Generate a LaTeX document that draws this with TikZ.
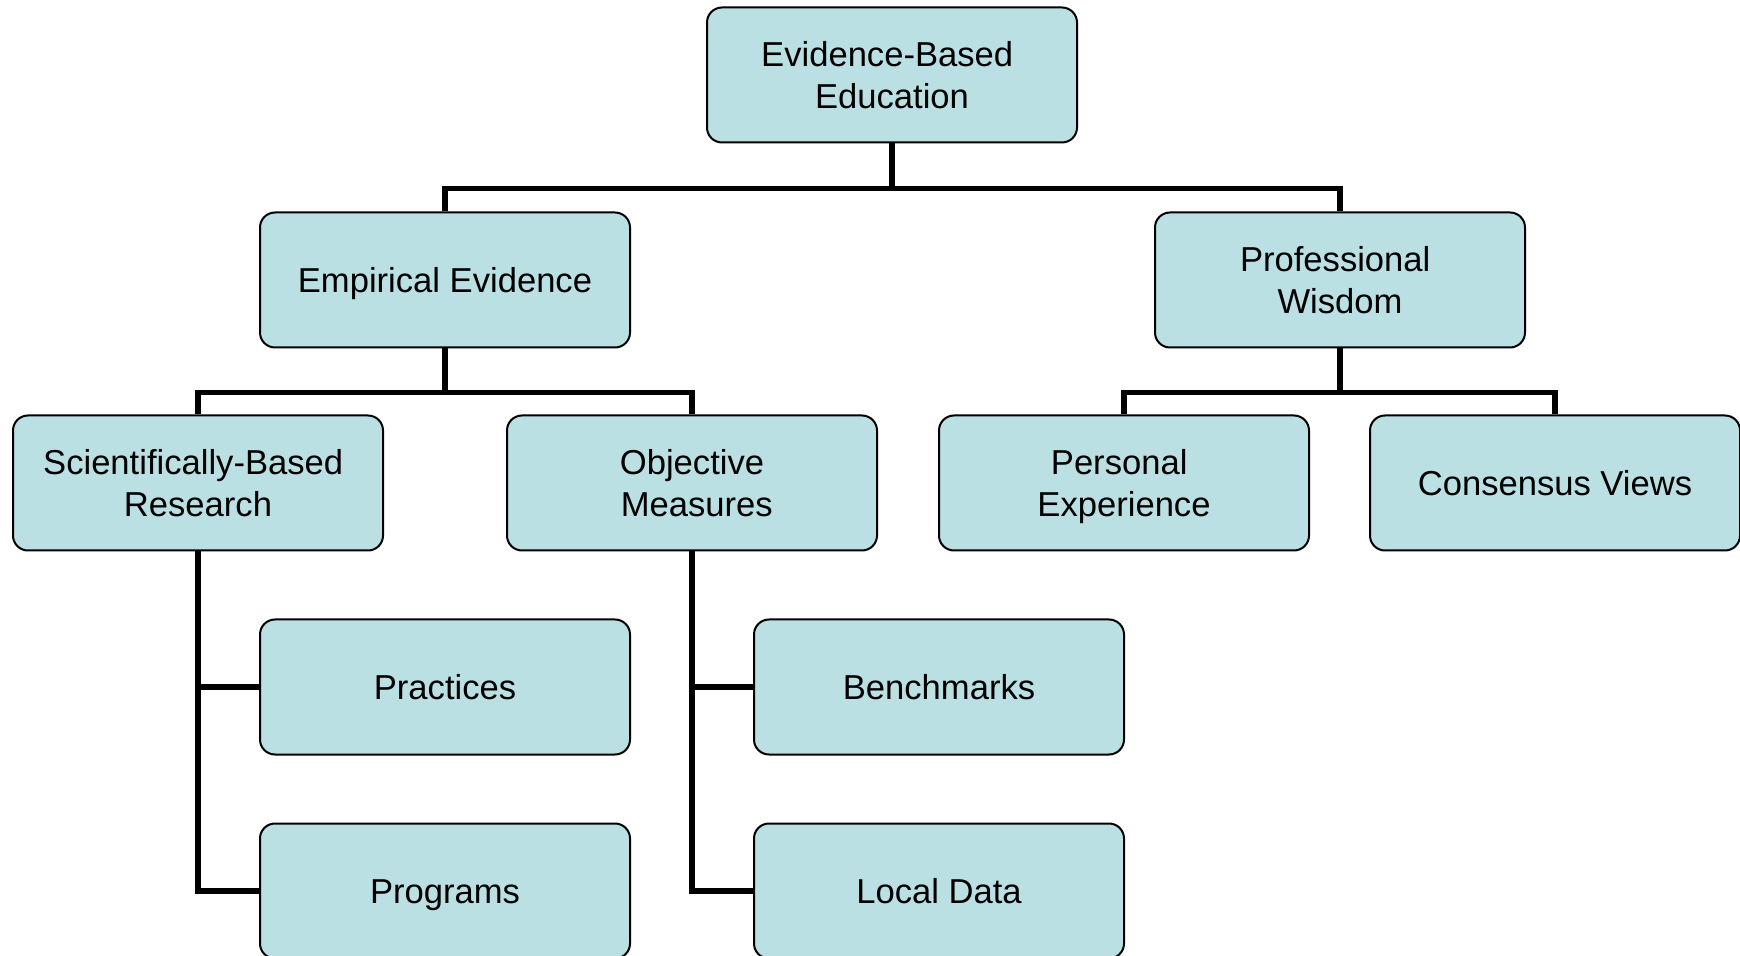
\documentclass[tikz,border=0pt]{standalone}
\usepackage{fontspec}
\setmainfont{Liberation Sans}
\definecolor{boxfill}{HTML}{BBE0E3}
\newcommand{\gap}{\kern.278em}

\begin{document}
\begin{tikzpicture}[x=0.5pt, y=-0.5pt,
    box/.style={draw, rounded corners=7.5pt, line width=1pt, fill=boxfill,
        minimum width=185pt, minimum height=67.5pt, align=center,
        font=\fontsize{17.3}{20.8}\selectfont, text depth=4pt,
        execute at begin node={\rule{0pt}{16.8pt}}},
    twoline/.style={box, execute at begin node={\rule{0pt}{37.6pt}}},
    link/.style={draw, line width=2.6pt}]
                    \useasboundingbox (0,0) rectangle (1740,956);
                    \clip (0,0) rectangle (1740,956);
                    \node[twoline] (ebe) at (892,75) {Evidence-Based\gap\\Education};
                    \node[box] (emp) at (445,280) {Empirical Evidence};
                    \node[twoline] (wis) at (1340,280) {Professional\gap\\Wisdom};
                    \node[twoline] (sbr) at (198,483) {Scientifically-Based\gap\\Research};
                    \node[twoline] (obj) at (692,483) {Objective\\\gap Measures};
                    \node[twoline] (per) at (1124,483) {Personal\gap\\Experience};
                    \node[box] (con) at (1555,483) {Consensus Views};
                    \node[box] (prac) at (445,687) {Practices};
                    \node[box] (prog) at (445,891) {Programs};
                    \node[box] (bench) at (939,687) {Benchmarks};
                    \node[box] (local) at (939,891) {Local Data};
                    \draw[link] (ebe.south) -- ++(0,45) -| (emp.north);
                    \draw[link] (ebe.south) -- ++(0,45) -| (wis.north);
                    \draw[link] (emp.south) -- ++(0,44) -| (sbr.north);
                    \draw[link] (emp.south) -- ++(0,44) -| (obj.north);
                    \draw[link] (wis.south) -- ++(0,44) -| (per.north);
                    \draw[link] (wis.south) -- ++(0,44) -| (con.north);
                    \draw[link] (sbr.south) |- (prac.west);
                    \draw[link] (sbr.south) |- (prog.west);
                    \draw[link] (obj.south) |- (bench.west);
                    \draw[link] (obj.south) |- (local.west);
                \end{tikzpicture}
\end{document}
